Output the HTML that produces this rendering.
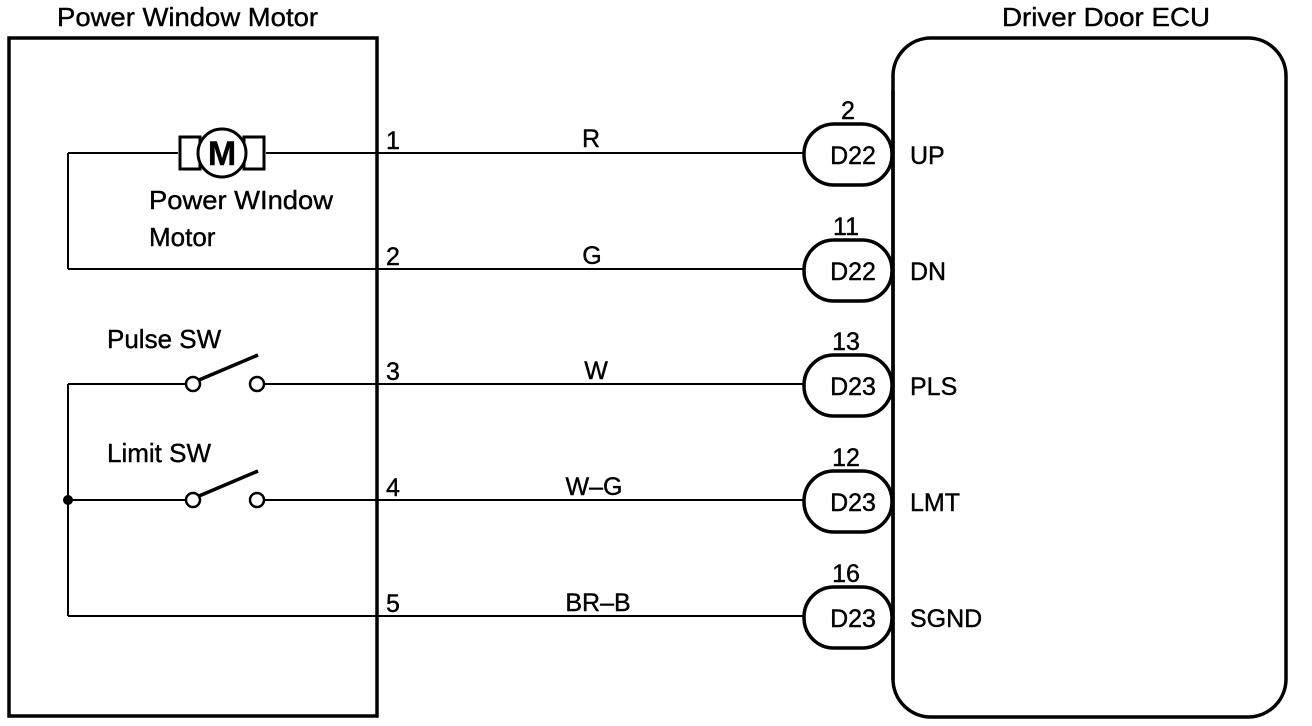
<!DOCTYPE html>
<html><head><meta charset="utf-8"><style>
html,body{margin:0;padding:0;background:#fff;}
svg{display:block;}
text{font-family:"Liberation Sans",Arial,sans-serif;fill:#000;stroke:#000;stroke-width:0.4;}
</style></head><body>
<svg width="1312" height="726" viewBox="0 0 1312 726" xmlns="http://www.w3.org/2000/svg">
<g fill="none" stroke="#000">
 <rect x="9" y="38" width="368" height="678" stroke-width="3.5"/>
 <rect x="893" y="38" width="393" height="679" rx="38" ry="38" stroke-width="3.5"/>
 <g stroke-width="2">
  <line x1="266" y1="153" x2="804" y2="153"/>
  <line x1="68" y1="153" x2="178" y2="153"/>
  <line x1="68" y1="153" x2="68" y2="269"/>
  <line x1="68" y1="269" x2="804" y2="269"/>
  <line x1="68" y1="384" x2="186" y2="384"/>
  <line x1="264" y1="384" x2="804" y2="384"/>
  <line x1="68" y1="384" x2="68" y2="616"/>
  <line x1="68" y1="500" x2="186" y2="500"/>
  <line x1="264" y1="500" x2="804" y2="500"/>
  <line x1="68" y1="616" x2="804" y2="616"/>
 </g>
 <rect x="180" y="137" width="20" height="32" stroke-width="3"/>
 <rect x="244" y="137" width="20" height="32" stroke-width="3"/>
 <circle cx="222" cy="153" r="24" fill="#fff" stroke-width="3"/>
 <g stroke-width="2.5">
  <circle cx="193" cy="384" r="7" fill="#fff"/>
  <circle cx="257" cy="384" r="7" fill="#fff"/>
  <line x1="199" y1="380" x2="258" y2="355" stroke-width="3.5"/>
  <circle cx="193" cy="500" r="7" fill="#fff"/>
  <circle cx="257" cy="500" r="7" fill="#fff"/>
  <line x1="199" y1="496" x2="258" y2="471" stroke-width="3.5"/>
 </g>
 <g stroke-width="3.5" fill="#fff">
  <rect x="804" y="124" width="88" height="61" rx="30" ry="30"/>
  <rect x="804" y="240" width="88" height="61" rx="30" ry="30"/>
  <rect x="804" y="355" width="88" height="61" rx="30" ry="30"/>
  <rect x="804" y="471" width="88" height="61" rx="30" ry="30"/>
  <rect x="804" y="587" width="88" height="61" rx="30" ry="30"/>
 </g>
 <line x1="893" y1="90" x2="893" y2="680" stroke-width="3.5"/>
</g>
<circle cx="68" cy="500" r="5" fill="#000"/>
<g font-size="26">
 <text x="57" y="26" textLength="261" lengthAdjust="spacingAndGlyphs">Power Window Motor</text>
 <text x="1002" y="26" textLength="208" lengthAdjust="spacingAndGlyphs">Driver Door ECU</text>
 <text x="222" y="165" text-anchor="middle" font-size="34" font-weight="bold">M</text>
 <text x="149" y="209" textLength="184" lengthAdjust="spacingAndGlyphs">Power WIndow</text>
 <text x="149" y="246">Motor</text>
 <text x="107" y="348">Pulse SW</text>
 <text x="107" y="462">Limit SW</text>
 <g font-size="25">
  <text x="386" y="149">1</text><text x="386" y="265">2</text><text x="386" y="380">3</text><text x="386" y="496">4</text><text x="386" y="612">5</text>
  <text x="591" y="147" text-anchor="middle">R</text>
  <text x="592" y="264" text-anchor="middle">G</text>
  <text x="596" y="379" text-anchor="middle">W</text>
  <text x="594" y="495" text-anchor="middle">W–G</text>
  <text x="598" y="611" text-anchor="middle">BR–B</text>
  <text x="848" y="119" text-anchor="middle">2</text>
  <text x="846" y="235" text-anchor="middle">11</text>
  <text x="846" y="350" text-anchor="middle">13</text>
  <text x="846" y="466" text-anchor="middle">12</text>
  <text x="846" y="582" text-anchor="middle">16</text>
  <text x="853" y="164" text-anchor="middle">D22</text>
  <text x="853" y="280" text-anchor="middle">D22</text>
  <text x="853" y="395" text-anchor="middle">D23</text>
  <text x="853" y="511" text-anchor="middle">D23</text>
  <text x="853" y="627" text-anchor="middle">D23</text>
  <text x="910" y="164">UP</text>
  <text x="910" y="280">DN</text>
  <text x="910" y="395">PLS</text>
  <text x="910" y="511">LMT</text>
  <text x="910" y="627">SGND</text>
 </g>
</g>
</svg>
</body></html>
